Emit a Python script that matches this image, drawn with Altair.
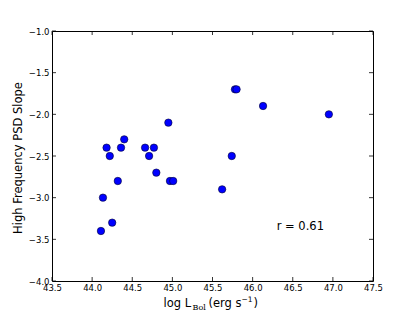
import altair as alt
import pandas as pd

# Data
log_lbol = [44.11, 44.135, 44.25, 44.18, 44.22, 44.32, 44.36, 44.40, 44.66, 44.71,
            44.77, 44.80, 44.95, 44.97, 45.01, 45.62, 45.74, 45.78, 45.80, 46.13, 46.95]
psd_slope = [-3.4, -3.0, -3.3, -2.4, -2.5, -2.8, -2.4, -2.3, -2.4, -2.5,
             -2.4, -2.7, -2.1, -2.8, -2.8, -2.9, -2.5, -1.7, -1.7, -1.9, -2.0]
x_ticks = [43.5, 44.0, 44.5, 45.0, 45.5, 46.0, 46.5, 47.0, 47.5]
y_ticks = [-4.0, -3.5, -3.0, -2.5, -2.0, -1.5, -1.0]
annotation = ["r = 0.61"]
annot_x = [46.30]
annot_y = [-3.35]

W, H = 321, 250
FONT = "DejaVu Sans"

df = pd.DataFrame({"x": log_lbol, "y": psd_slope})
xt = pd.DataFrame({"t": x_ticks})
yt = pd.DataFrame({"t": y_ticks})

xscale = alt.Scale(domain=[43.5, 47.5], nice=False, zero=False)
yscale = alt.Scale(domain=[-4.0, -1.0], nice=False, zero=False)

xaxis = alt.Axis(values=x_ticks, format=".1f", ticks=False, domain=False, grid=False,
                 labelFontSize=8.5, labelFont=FONT, labelColor="black",
                 labelPadding=2, labelFlush=False, labelOverlap=False, title=None)
yaxis = alt.Axis(values=y_ticks, format=".1f", ticks=False, domain=False, grid=False,
                 labelFontSize=8.5, labelFont=FONT, labelColor="black",
                 labelPadding=3, labelFlush=False, labelOverlap=False, title=None)

points = alt.Chart(df).mark_point(
    filled=True, shape="circle", size=55, color="#0000ff",
    stroke="#000033", strokeWidth=0.6, opacity=1
).encode(
    x=alt.X("x:Q", scale=xscale, axis=xaxis),
    y=alt.Y("y:Q", scale=yscale, axis=yaxis),
)

tick_kw = dict(color="black", strokeWidth=0.8)
xt_bottom = alt.Chart(xt).mark_rule(**tick_kw).encode(
    x=alt.X("t:Q", scale=xscale), y=alt.value(H), y2=alt.value(H - 4))
xt_top = alt.Chart(xt).mark_rule(**tick_kw).encode(
    x=alt.X("t:Q", scale=xscale), y=alt.value(0), y2=alt.value(4))
yt_left = alt.Chart(yt).mark_rule(**tick_kw).encode(
    y=alt.Y("t:Q", scale=yscale), x=alt.value(0), x2=alt.value(4))
yt_right = alt.Chart(yt).mark_rule(**tick_kw).encode(
    y=alt.Y("t:Q", scale=yscale), x=alt.value(W), x2=alt.value(W - 4))

annot = alt.Chart(pd.DataFrame({"x": annot_x, "y": annot_y, "t": annotation})).mark_text(
    align="left", baseline="middle", font=FONT, fontSize=11.5, color="black"
).encode(x=alt.X("x:Q", scale=xscale), y=alt.Y("y:Q", scale=yscale), text="t:N")

def label(txt, x, y, size, font=FONT, angle=0, align="left", baseline="alphabetic"):
    return alt.Chart(pd.DataFrame({"t": [txt]})).mark_text(
        align=align, baseline=baseline, font=font, fontSize=size, color="black", angle=angle
    ).encode(x=alt.value(x), y=alt.value(y), text="t:N")

xtitle = [
    label("log L", 111.5, 275.5, 11.5),
    label("Bol", 140.5, 278.5, 8, font="DejaVu Serif"),
    label("(erg s", 156.5, 275.5, 11.5),
    label("\u22121", 189.5, 271, 7.5),
    label(")", 201.5, 275.5, 11.5),
]
ytitle = label("High Frequency PSD Slope", -33.5, 127, 11.5, angle=270,
               align="center", baseline="middle")

chart = alt.layer(
    points, xt_bottom, xt_top, yt_left, yt_right, annot, ytitle, *xtitle
).properties(
    width=W, height=H,
    autosize=alt.AutoSizeParams(type="none"),
    padding={"left": 44, "top": 23, "right": 34, "bottom": 31},
).configure_view(stroke="black", strokeWidth=1)

chart.save("out.html", embed_options={"renderer": "svg", "actions": False})
